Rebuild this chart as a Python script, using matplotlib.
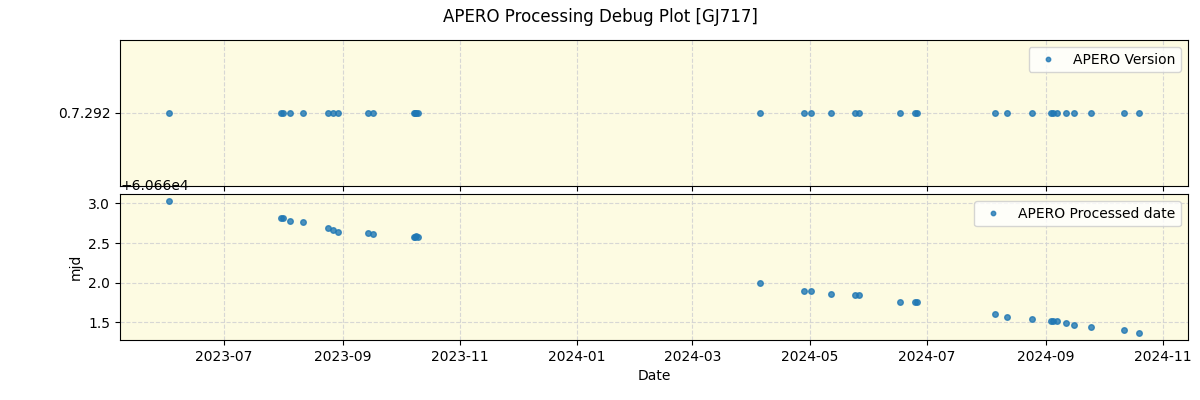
import matplotlib
matplotlib.use("Agg")
import matplotlib.pyplot as plt
import numpy as np

dates = [
    "2023-06-02T08", "2023-07-30T18", "2023-07-31T18", "2023-08-04T18", "2023-08-11T06",
    "2023-08-24T06", "2023-08-26T18", "2023-08-29T18", "2023-09-14", "2023-09-17",
    "2023-10-08", "2023-10-08T18", "2023-10-09T06", "2023-10-10",
    "2024-04-05", "2024-04-28", "2024-05-02", "2024-05-12", "2024-05-24T18",
    "2024-05-27", "2024-06-17", "2024-06-24T18", "2024-06-26", "2024-08-05T12",
    "2024-08-12", "2024-08-24T18", "2024-09-03T12", "2024-09-04T18", "2024-09-07",
    "2024-09-11T12", "2024-09-15T12", "2024-09-24T12", "2024-10-11T18", "2024-10-19T18",
]
processed_mjd = [
    60663.03, 60662.82, 60662.81, 60662.78, 60662.77,
    60662.69, 60662.67, 60662.64, 60662.62, 60662.61,
    60662.58, 60662.57, 60662.59, 60662.58,
    60661.99, 60661.90, 60661.89, 60661.86, 60661.85,
    60661.84, 60661.76, 60661.76, 60661.75, 60661.61,
    60661.57, 60661.54, 60661.52, 60661.52, 60661.51,
    60661.49, 60661.47, 60661.44, 60661.40, 60661.36,
]
versions = ["0.7.292"] * len(dates)

x = np.array(dates, dtype="datetime64[h]")

fig, (ax1, ax2) = plt.subplots(2, 1, figsize=(12, 4), dpi=100, sharex=True)
fig.subplots_adjust(left=0.1, right=0.99, top=0.9, bottom=0.15, hspace=0.06)
fig.suptitle("APERO Processing Debug Plot [GJ717]", fontsize=12)

bg = "#fdfbe2"
for ax in (ax1, ax2):
    ax.set_facecolor(bg)
    ax.grid(True, linestyle="--", color="lightgray", alpha=0.9)
    ax.set_axisbelow(True)

ax1.plot(x, versions, "o", ms=4, alpha=0.8, color="#1f77b4", label="APERO Version")
ax1.legend(loc="upper right", markerscale=0.8)

ax2.plot(x, processed_mjd, "o", ms=4, alpha=0.8, color="#1f77b4", label="APERO Processed date")
ax2.legend(loc="upper right", markerscale=0.8)
ax2.set_ylabel("mjd")
ax2.set_xlabel("Date")

fig.savefig("out.png", dpi=100)
